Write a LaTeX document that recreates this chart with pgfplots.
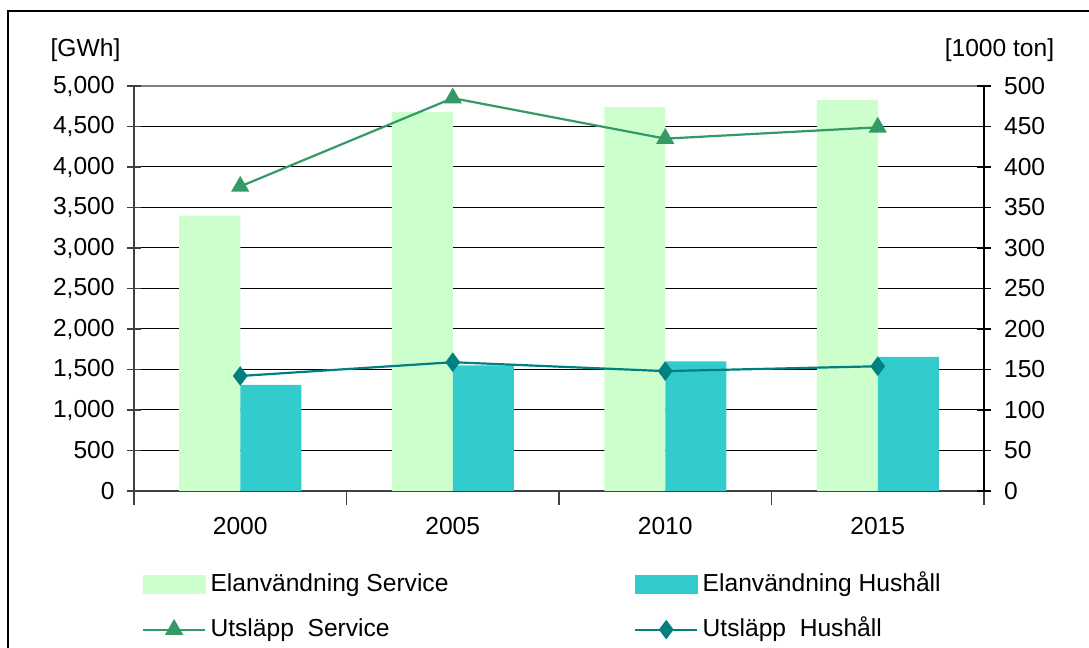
\documentclass[border=0pt]{standalone}
\usepackage{pgfplots}
\pgfplotsset{compat=1.18}
\usepackage{fontspec}
\setmainfont{Liberation Sans}
\definecolor{servbar}{HTML}{CCFFCC}
\definecolor{husbar}{HTML}{33CCCC}
\definecolor{servline}{HTML}{339966}
\definecolor{husline}{HTML}{008080}
\definecolor{axgray}{HTML}{404040}
\pgfplotsset{
  base/.style={
    scale only axis, width=425pt, height=202.5pt,
    at={(67pt,78.5pt)}, anchor=south west,
    xmin=-0.5, xmax=3.5,
    /pgf/number format/1000 sep={,},
    /pgf/number format/assume math mode=true,
    tick align=center, major tick length=7pt,
    tick label style={font=\fontsize{12.3}{14.8}\selectfont},
  }
}
\begin{document}
\fontsize{12.3}{14.8}\selectfont
\begin{tikzpicture}[x=1pt,y=1pt]
\useasboundingbox (0,0) rectangle (544.5,324);
\draw[black, line width=0.6pt] (4,-10) -- (4,318.5) -- (560,318.5);
\node at (42.75,299) {[GWh]};
\node at (499.75,299) {[1000 ton]};
\begin{axis}[base,
  ybar=0pt, bar width=30.5pt,
  ymin=0, ymax=5000,
  ytick={0,500,...,4500}, extra y ticks={5000},
  extra y tick style={major grid style={draw=gray, line width=1.1pt}},
  ymajorgrids, major grid style={black, line width=0.5pt},
  axis x line*=bottom, axis y line*=left,
  axis line style={axgray, line width=1pt, -},
  xtick={0,1,2,3}, xticklabels={2000,2005,2010,2015},
  major x tick style={draw=none},
  minor xtick={-0.5,0.5,1.5,2.5,3.5},
  minor tick length=7pt,
  every tick/.style={axgray, line width=0.8pt},
  yticklabel style={xshift=-1.9pt},
  xticklabel style={yshift=-1.9pt},
]
\addplot[fill=servbar, draw=none] coordinates {(0,3400) (1,4680) (2,4740) (3,4830)};
\addplot[fill=husbar, draw=none] coordinates {(0,1310) (1,1550) (2,1600) (3,1655)};
\end{axis}
\begin{axis}[base,
  ymin=0, ymax=500, ytick={0,50,...,500},
  axis y line*=right, axis x line=none,
  axis line style={black, line width=0.8pt, -},
  every tick/.style={black, line width=0.8pt},
  yticklabel style={xshift=2.25pt},
  legend columns=2,
  legend cell align=left,
  legend image code/.code={\draw[mark repeat=2,mark phase=2,#1] plot coordinates {(0pt,0pt) (15.5pt,0pt) (31pt,0pt)};},
  legend style={draw=none, fill=none, at={(axis description cs:0.0094,-0.2025)}, anchor=north west,
    inner sep=0pt, outer sep=0pt, row sep=10.9pt,
    font=\fontsize{12.3}{14.8}\selectfont,
    nodes={inner sep=0pt, text height=9pt, text depth=2.6pt},
    /tikz/every odd column/.append style={column sep=2.2pt},
    /tikz/every even column/.append style={column sep=92.8pt}},
]
\addlegendimage{legend image code/.code={\fill[servbar] (0pt,-4.5pt) rectangle (31pt,4.5pt);}}
\addlegendentry{Elanvändning Service}
\addlegendimage{legend image code/.code={\fill[husbar] (0pt,-4.5pt) rectangle (31pt,4.5pt);}}
\addlegendentry{Elanvändning Hushåll}
\addplot[servline, line width=1.1pt, mark=triangle*, mark size=4.2pt] coordinates {(0,376) (1,485) (2,435) (3,449)};
\addlegendentry{Utsläpp\ \ Service}
\addplot[husline, line width=1.1pt, mark=diamond*, mark size=4pt] coordinates {(0,142) (1,159) (2,148) (3,154)};
\addlegendentry{Utsläpp\ \ Hushåll}
\end{axis}
\end{tikzpicture}
\end{document}
